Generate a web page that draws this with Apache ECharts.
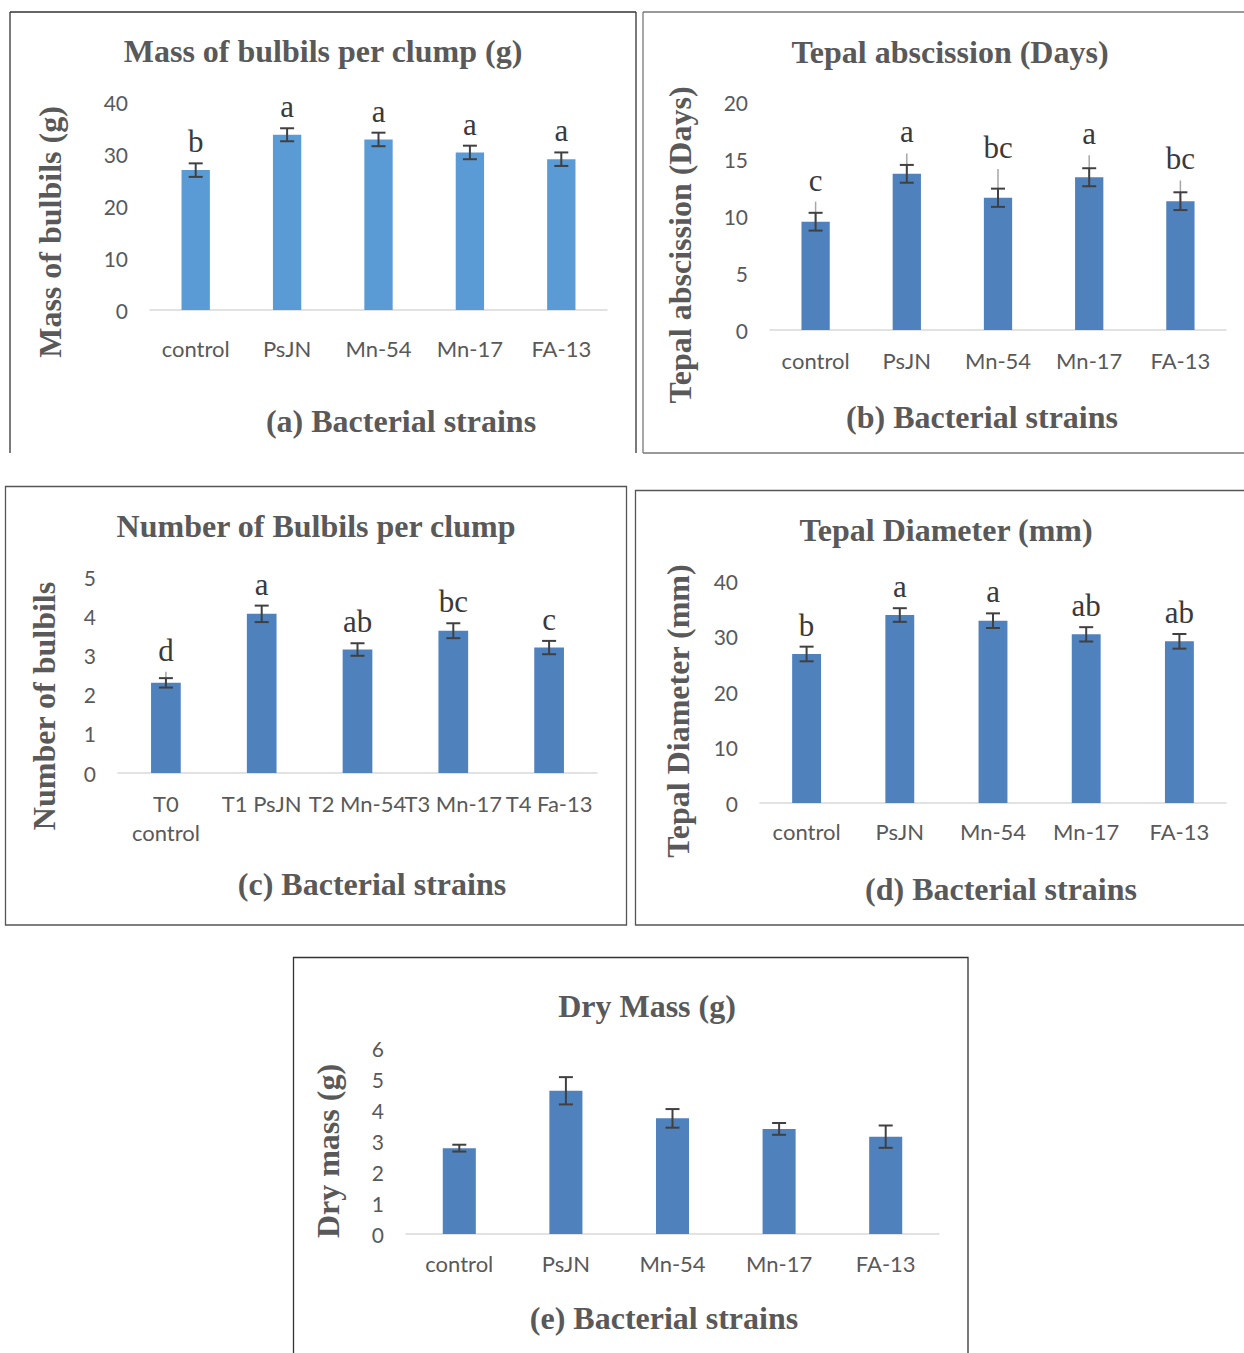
<!DOCTYPE html>
<html>
<head>
<meta charset="utf-8">
<title>Bacterial strains – bulbil and tepal traits</title>
<script src="https://cdn.jsdelivr.net/npm/echarts@6/dist/echarts.min.js"></script>
<style>
  html, body { margin: 0; padding: 0; background: #ffffff; }
  #chart { width: 1244px; height: 1353px; }
</style>
</head>
<body>
<div id="chart"></div>
<script>
// ---- data -------------------------------------------------------------
const strains = ['control', 'PsJN', 'Mn-54', 'Mn-17', 'FA-13'];
const treatments = ['T0\ncontrol', 'T1 PsJN', 'T2 Mn-54', 'T3 Mn-17', 'T4 Fa-13'];

// (a) mass of bulbils per clump (g)
const bulbilMass = [26.9, 33.7, 32.8, 30.3, 29.0];
const bulbilMassErr = [1.3, 1.25, 1.3, 1.3, 1.3];
const bulbilMassLetters = ['b', 'a', 'a', 'a', 'a'];

// (b) tepal abscission (days)
const tepalAbscission = [9.5, 13.7, 11.6, 13.4, 11.3];
const tepalAbscissionErr = [0.78, 0.78, 0.8, 0.79, 0.78];
const tepalAbscissionUpper = [1.76, 1.79, 2.52, 1.93, 1.82];
const tepalAbscissionLetters = ['c', 'a', 'bc', 'a', 'bc'];

// (c) number of bulbils per clump
const bulbilCount = [2.30, 4.06, 3.15, 3.63, 3.20];
const bulbilCountErr = [0.12, 0.21, 0.16, 0.19, 0.17];
const bulbilCountUpper = [0.28, 0, 0, 0, 0];
const bulbilCountLetters = ['d', 'a', 'ab', 'bc', 'c'];

// (d) tepal diameter (mm)
const tepalDiameter = [26.85, 33.87, 32.85, 30.39, 29.13];
const tepalDiameterErr = [1.32, 1.23, 1.32, 1.29, 1.32];
const tepalDiameterLetters = ['b', 'a', 'a', 'ab', 'ab'];

// (e) dry mass (g)
const dryMass = [2.77, 4.62, 3.73, 3.39, 3.14];
const dryMassErr = [0.11, 0.44, 0.30, 0.19, 0.36];

// axis ranges
const yMax = [40, 20, 5, 40, 6];
const yStep = [10, 5, 1, 10, 1];

// ---- styling ----------------------------------------------------------
const SERIF = "'Liberation Serif', 'Times New Roman', serif";
const SANS = "Lato, 'Open Sans', sans-serif";
const TEXT_GREY = '#595959';
const ERR_COLOR = '#404040';

const panels = [
  { cats: strains, vals: bulbilMass, err: bulbilMassErr, letters: bulbilMassLetters, color: '#5b9bd5',
    grid: { left: 150, top: 102, width: 457, height: 208 }, labelMargin: 24 },
  { cats: strains, vals: tepalAbscission, err: tepalAbscissionErr, upper: tepalAbscissionUpper,
    letters: tepalAbscissionLetters, color: '#4f81bd',
    grid: { left: 770, top: 102, width: 456, height: 228 }, labelMargin: 16 },
  { cats: treatments, vals: bulbilCount, err: bulbilCountErr, upper: bulbilCountUpper,
    letters: bulbilCountLetters, color: '#4f81bd',
    grid: { left: 118, top: 577, width: 479, height: 196 }, labelMargin: 16 },
  { cats: strains, vals: tepalDiameter, err: tepalDiameterErr, letters: tepalDiameterLetters, color: '#4f81bd',
    grid: { left: 760, top: 581, width: 466, height: 222 }, labelMargin: 14 },
  { cats: strains, vals: dryMass, err: dryMassErr, letters: null, color: '#4f81bd',
    grid: { left: 406, top: 1048, width: 533, height: 186 }, labelMargin: 15 }
];

// headings, axis titles and frames
const headings = [
  ['Mass of bulbils per clump (g)', 323, 51],
  ['Tepal abscission (Days)', 950, 52],
  ['Number of Bulbils per clump', 316, 526],
  ['Tepal Diameter (mm)', 946, 530],
  ['Dry Mass (g)', 647, 1006]
];
const xTitles = [
  ['(a) Bacterial strains', 401, 421],
  ['(b) Bacterial strains', 982, 417],
  ['(c) Bacterial strains', 372, 884],
  ['(d) Bacterial strains', 1001, 889],
  ['(e) Bacterial strains', 664, 1318]
];
const yTitles = [
  ['Mass of bulbils (g)', 50, 232],
  ['Tepal abscission (Days)', 680, 245],
  ['Number of bulbils', 44, 706],
  ['Tepal Diameter (mm)', 678, 711],
  ['Dry mass (g)', 328, 1151]
];

function serifText(txt, x, y, rotate) {
  return {
    type: 'text', x: x, y: y, rotation: rotate ? Math.PI / 2 : 0, silent: true,
    style: {
      text: txt, fill: TEXT_GREY, font: 'bold 32px ' + SERIF,
      textAlign: 'center', textVerticalAlign: 'middle'
    }
  };
}
function frameLine(x1, y1, x2, y2, color) {
  return { type: 'line', silent: true, shape: { x1: x1, y1: y1, x2: x2, y2: y2 },
           style: { stroke: color, lineWidth: 1.3 } };
}

const graphics = [];
headings.forEach(h => graphics.push(serifText(h[0], h[1], h[2], false)));
xTitles.forEach(h => graphics.push(serifText(h[0], h[1], h[2], false)));
yTitles.forEach(h => graphics.push(serifText(h[0], h[1], h[2], true)));
// panel frames
graphics.push(frameLine(10, 12, 636, 12, '#333333'));
graphics.push(frameLine(10, 12, 10, 453, '#333333'));
graphics.push(frameLine(636, 12, 636, 453, '#333333'));
graphics.push(frameLine(643, 12, 1244, 12, '#777777'));
graphics.push(frameLine(643, 12, 643, 453, '#777777'));
graphics.push(frameLine(643, 453, 1244, 453, '#777777'));
graphics.push({ type: 'rect', silent: true, shape: { x: 5.5, y: 486.5, width: 621, height: 438.5 },
                style: { fill: 'none', stroke: '#555555', lineWidth: 1.3 } });
graphics.push({ type: 'rect', silent: true, shape: { x: 635.5, y: 490.5, width: 620, height: 434.5 },
                style: { fill: 'none', stroke: '#555555', lineWidth: 1.3 } });
graphics.push({ type: 'rect', silent: true, shape: { x: 293.5, y: 957.5, width: 674.5, height: 410 },
                style: { fill: 'none', stroke: '#333333', lineWidth: 1.3 } });

// error bars (with optional upper whisker and significance letter)
function errorRenderer(p) {
  return function (params, api) {
    const i = params.dataIndex;
    const v = p.vals[i];
    const e = p.err[i];
    const up = p.upper ? p.upper[i] : 0;
    const lo = api.coord([i, v - e]);
    const hi = api.coord([i, v + e]);
    const cap = 7;
    const children = [];
    if (up > 0) {
      const top = api.coord([i, v + up]);
      const base = api.coord([i, v]);
      children.push({ type: 'line', shape: { x1: top[0], y1: top[1], x2: base[0], y2: base[1] },
                      style: { stroke: '#a6a6a6', lineWidth: 1.5 } });
    }
    children.push({ type: 'line', shape: { x1: lo[0], y1: lo[1], x2: hi[0], y2: hi[1] },
                    style: { stroke: ERR_COLOR, lineWidth: 2 } });
    children.push({ type: 'line', shape: { x1: lo[0] - cap, y1: lo[1], x2: lo[0] + cap, y2: lo[1] },
                    style: { stroke: ERR_COLOR, lineWidth: 2 } });
    children.push({ type: 'line', shape: { x1: hi[0] - cap, y1: hi[1], x2: hi[0] + cap, y2: hi[1] },
                    style: { stroke: ERR_COLOR, lineWidth: 2 } });
    if (p.letters) {
      const peak = api.coord([i, v + Math.max(e, up)]);
      children.push({ type: 'text', x: peak[0], y: peak[1] - 6,
                      style: { text: p.letters[i], fill: '#3a3a3a', font: '31px ' + SERIF,
                               textAlign: 'center', textVerticalAlign: 'bottom' } });
    }
    return { type: 'group', children: children };
  };
}

const option = {
  animation: false,
  backgroundColor: '#ffffff',
  grid: panels.map(p => p.grid),
  xAxis: panels.map((p, k) => ({
    type: 'category', gridIndex: k, data: p.cats,
    axisLine: { lineStyle: { color: '#d9d9d9', width: 1.5 } },
    axisTick: { show: false },
    axisLabel: { interval: 0, color: TEXT_GREY, fontFamily: SANS, fontSize: 22,
                 margin: p.labelMargin, lineHeight: 29 }
  })),
  yAxis: panels.map((p, k) => ({
    type: 'value', gridIndex: k, min: 0, max: yMax[k], interval: yStep[k],
    axisLine: { show: false }, axisTick: { show: false }, splitLine: { show: false },
    axisLabel: { color: TEXT_GREY, fontFamily: SANS, fontSize: 21, margin: 22 }
  })),
  series: [].concat(
    panels.map((p, k) => ({
      type: 'bar', xAxisIndex: k, yAxisIndex: k, data: p.vals, barWidth: '31%',
      itemStyle: { color: p.color }, silent: true
    })),
    panels.map((p, k) => ({
      type: 'custom', xAxisIndex: k, yAxisIndex: k, silent: true, z: 5,
      data: p.vals.map((v, i) => [i, v]),
      renderItem: errorRenderer(p)
    }))
  ),
  graphic: graphics
};

const chart = echarts.init(document.getElementById('chart'), null, { renderer: 'svg' });
chart.setOption(option);
</script>
</body>
</html>
